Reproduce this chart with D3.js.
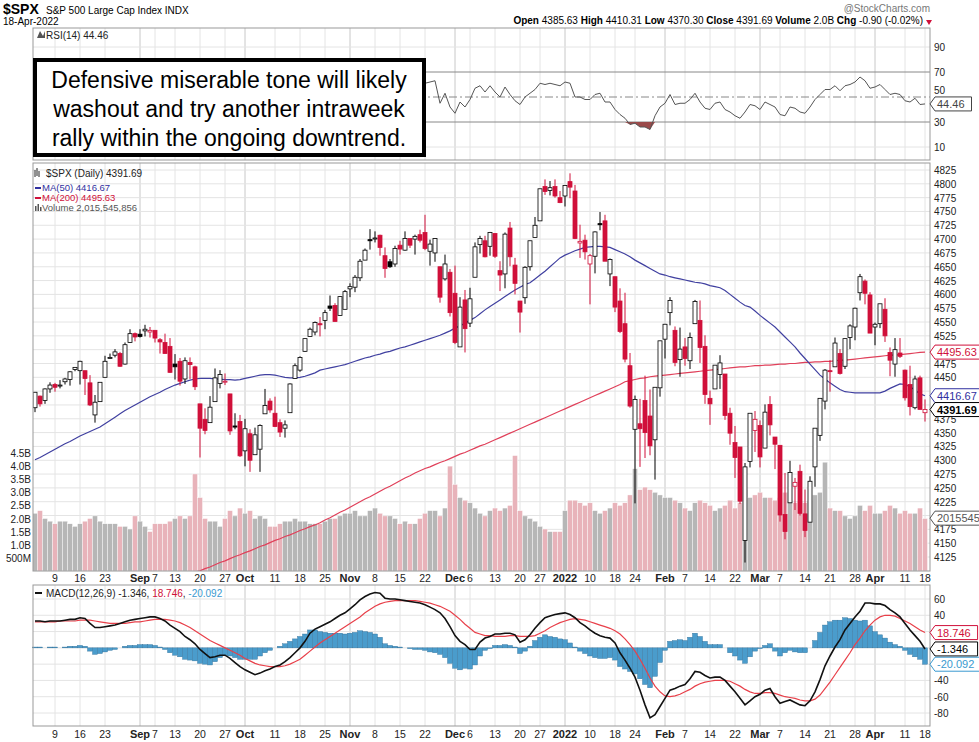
<!DOCTYPE html>
<html>
<head>
<meta charset="utf-8">
<script src="https://cdn.jsdelivr.net/npm/d3@7"></script>
<style>
  body { margin: 0; background: #fff; }
  text { font-family: 'Liberation Sans', Arial, sans-serif; }
</style>
</head>
<body>
<div id="chart"></div>
<script>
// trading days: Aug 3 2021 .. Apr 18 2022
const startDate = '2021-08-03'
const endDate = '2022-04-18'
const holidays = ['2021-09-06', '2021-11-25', '2021-12-24', '2022-01-17', '2022-02-21', '2022-04-15']

const opens = [4395,4416,4408,4429,4437,4435,4442,4446,4464,4462,4462,4440,4382,4406,4450,4484,4490,4493,4474,4513,4529,
  4528,4534,4532,4535,4518,4513,4506,4474,4479,4447,4477,4469,4402,4374,4368,4406,4439,4443,4420,4362,4370,
  4317,4348,4310,4320,4384,4407,4385,4368,4358,4386,4448,4463,4497,4524,4532,4547,4553,4579,4580,4562,4573,
  4610,4613,4630,4662,4699,4701,4707,4670,4659,4655,4689,4680,4701,4700,4708,4712,4678,4675,4650,4628,4640,
  4602,4505,4590,4548,4631,4690,4697,4687,4710,4643,4637,4720,4653,4588,4594,4650,4703,4733,4795,4788,4795,4775,
  4778,4804,4787,4693,4698,4655,4669,4728,4733,4637,4632,4588,4547,4471,4356,4366,4408,4380,4337,4431,
  4519,4567,4535,4482,4505,4480,4547,4553,4506,4412,4429,4455,4456,4385,4332,4324,4155,4298,4354,
  4363,4322,4401,4342,4327,4202,4223,4253,4280,4203,4188,4288,4345,4407,4462,4469,4493,4470,4522,4541,4603,4624,4599,
  4541,4547,4573,4495,4474,4494,4463,4437,4395,4449,4386]
const highs = [4423,4417,4430,4441,4440,4445,4449,4461,4468,4480,4462,4454,4418,4441,4489,4493,4501,4496,4513,4537,4531,
  4537,4545,4541,4535,4521,4529,4521,4492,4485,4486,4486,4471,4402,4394,4416,4466,4463,4457,4420,4385,4382,
  4375,4356,4359,4365,4429,4412,4415,4374,4372,4439,4475,4488,4520,4540,4551,4559,4572,4598,4584,4597,4608,
  4620,4635,4664,4683,4718,4714,4708,4685,4664,4688,4697,4714,4701,4708,4717,4744,4699,4702,4650,4672,4646,
  4652,4595,4608,4612,4694,4706,4706,4713,4711,4660,4712,4731,4666,4588,4651,4697,4740,4791,4808,4805,4808,4787,
  4797,4819,4798,4726,4708,4673,4714,4749,4744,4665,4632,4611,4603,4494,4417,4411,4453,4428,4432,4516,
  4546,4595,4542,4540,4521,4531,4590,4589,4526,4426,4472,4490,4456,4395,4362,4324,4295,4385,4389,
  4372,4401,4416,4342,4327,4277,4299,4268,4292,4247,4271,4358,4412,4465,4481,4522,4501,4520,4546,4576,4637,4627,4604,
  4549,4583,4593,4504,4521,4521,4464,4471,4453,4453,4410]
const lows = [4387,4397,4402,4422,4424,4430,4437,4435,4461,4437,4418,4398,4368,4406,4450,4484,4486,4469,4473,4513,4515,
  4522,4524,4522,4513,4493,4493,4458,4446,4435,4438,4447,4427,4305,4347,4368,4406,4430,4436,4346,4356,4306,
  4289,4279,4310,4279,4384,4386,4360,4342,4341,4386,4448,4460,4496,4524,4526,4524,4537,4570,4551,4562,4573,
  4595,4604,4624,4662,4681,4694,4670,4630,4648,4650,4672,4679,4684,4672,4694,4680,4652,4659,4585,4625,4560,
  4510,4505,4495,4541,4631,4674,4667,4670,4666,4606,4611,4651,4600,4531,4583,4643,4703,4733,4780,4779,4775,4765,
  4759,4774,4700,4666,4663,4582,4638,4716,4662,4615,4568,4530,4477,4395,4222,4288,4304,4309,4265,4415,
  4484,4544,4470,4451,4471,4465,4547,4476,4402,4364,4429,4429,4373,4328,4268,4221,4115,4287,4315,
  4287,4322,4345,4284,4189,4157,4223,4210,4200,4161,4188,4252,4335,4392,4424,4469,4455,4465,4501,4517,4589,4582,4530,
  4508,4539,4514,4452,4451,4485,4408,4381,4392,4392,4370]
const closes = [4423,4402,4429,4436,4432,4436,4447,4460,4468,4479,4448,4400,4405,4441,4479,4486,4496,4470,4509,4529,4523,
  4524,4537,4535,4521,4514,4493,4459,4469,4443,4480,4473,4433,4358,4354,4396,4449,4455,4443,4353,4360,4308,
  4357,4300,4346,4363,4399,4391,4361,4351,4364,4438,4471,4486,4520,4537,4549,4545,4567,4575,4551,4596,4605,
  4614,4631,4660,4680,4697,4702,4685,4647,4650,4683,4682,4701,4689,4705,4698,4683,4691,4701,4595,4655,4567,
  4513,4577,4538,4592,4686,4701,4668,4712,4669,4635,4709,4668,4620,4568,4649,4697,4725,4791,4786,4793,4778,4766,
  4797,4794,4701,4696,4677,4670,4713,4726,4660,4663,4577,4533,4483,4398,4410,4357,4350,4326,4432,4516,
  4546,4589,4477,4501,4484,4522,4587,4504,4419,4402,4472,4476,4381,4349,4305,4226,4288,4385,4374,
  4306,4387,4364,4329,4201,4171,4278,4260,4204,4173,4262,4358,4412,4463,4461,4512,4457,4520,4543,4575,4632,4602,4530,
  4546,4583,4525,4481,4500,4488,4413,4397,4447,4392,4391.69]
// volume in billions
const volumes = [2.2,2.3,2.0,1.9,1.8,1.9,1.9,1.8,1.7,1.8,1.9,2.0,2.1,1.9,1.8,1.8,1.8,1.7,1.7,1.6,2.1,
  1.9,1.7,1.5,1.8,1.8,1.8,1.9,2.0,2.1,2.0,2.1,3.7,2.8,2.0,1.9,1.9,1.7,2.0,2.3,2.1,2.4,
  2.2,2.3,2.0,2.1,2.0,1.7,1.7,1.8,1.9,1.9,2.0,1.9,1.9,1.8,1.8,1.8,1.9,2.0,2.0,2.1,2.2,
  2.2,2.3,2.1,2.1,2.3,2.4,2.2,2.1,2.1,2.0,1.8,1.9,1.8,1.8,2.0,2.2,2.3,2.3,2.1,2.4,4.0,
  3.3,2.8,2.7,2.6,2.4,2.2,2.1,2.3,2.4,2.3,2.4,2.5,4.4,2.3,2.1,2.0,1.9,1.7,1.6,1.5,1.5,1.5,
  2.3,2.7,2.7,2.6,2.5,2.6,2.3,2.2,2.3,2.4,2.6,2.5,2.6,2.9,3.9,3.1,3.2,3.1,3.0,2.9,
  2.8,2.8,2.7,2.6,2.4,2.3,2.6,2.7,2.6,2.5,2.3,2.4,2.5,2.7,2.4,2.6,3.1,2.8,2.9,
  3.0,2.8,2.8,2.7,2.8,3.0,2.7,2.6,2.6,2.6,2.7,2.9,3.0,4.15,2.4,2.3,2.3,2.1,2.0,2.1,2.5,2.3,2.5,
  2.2,2.2,2.3,2.5,2.4,2.2,2.3,2.2,2.2,2.4,2.0]
const ma50 = [4301,4305,4310,4315,4320,4325,4330,4334,4339,4344,4348,4352,4356,4360,4366,4372,4378,4384,4390,4395,4400,
  4405,4410,4415,4419,4423,4428,4432,4436,4439,4442,4445,4447,4448,4448,4448,4447,4447,4446,4446,4445,4446,
  4448,4450,4452,4454,4455,4455,4454,4452,4450,4449,4449,4450,4452,4455,4458,4463,4465,4467,4469,4471,4473,
  4476,4479,4482,4485,4487,4490,4492,4495,4497,4500,4503,4505,4508,4511,4514,4517,4520,4523,4526,4530,4534,
  4539,4543,4548,4553,4558,4565,4572,4578,4584,4590,4596,4602,4608,4613,4618,4621,4628,4635,4642,4650,4658,4666,
  4671,4675,4679,4682,4685,4686,4687,4687,4686,4685,4681,4677,4673,4668,4662,4657,4652,4647,4642,4637,
  4635,4632,4630,4628,4626,4624,4622,4621,4619,4616,4614,4612,4607,4600,4593,4586,4580,4577,4570,
  4562,4555,4548,4541,4532,4523,4514,4505,4494,4484,4474,4464,4454,4447,4440,4434,4428,4424,4423,4422,4422,4422,4422,
  4422,4422,4425,4430,4434,4438,4437,4433,4427,4420,4416.67]
const ma200 = [4040,4042,4043,4045,4047,4049,4051,4053,4055,4056,4058,4060,4062,4063,4065,4067,4068,4070,4072,4074,4076,
  4077,4079,4081,4083,4085,4087,4089,4091,4093,4095,4096,4098,4100,4104,4107,4111,4115,4118,4122,4126,4129,
  4133,4136,4140,4144,4147,4151,4155,4158,4162,4165,4169,4173,4176,4180,4183,4187,4192,4196,4201,4206,4210,
  4215,4220,4225,4230,4234,4239,4244,4249,4253,4258,4263,4268,4272,4277,4281,4285,4288,4292,4296,4299,4303,
  4307,4311,4314,4318,4322,4326,4329,4333,4337,4341,4345,4349,4353,4357,4361,4365,4369,4373,4377,4381,4385,4389,
  4393,4397,4401,4405,4409,4413,4417,4421,4425,4429,4433,4437,4442,4444,4446,4448,4449,4451,4452,4453,
  4454,4455,4456,4457,4458,4459,4460,4461,4462,4463,4464,4465,4466,4467,4468,4469,4469,4470,4471,
  4471,4472,4472,4473,4474,4474,4475,4475,4476,4477,4477,4478,4478,4479,4479,4480,4481,4481,4482,4483,4484,4485,4486,
  4487,4488,4489,4490,4490,4491,4492,4493,4494,4495,4495.63]
const rsiStart = 76
const rsi = [60,58,61,62,63,45,53,42,37,46,42,48,57,59,54,59,54,50,58,52,47,44,50,53,56,61,60,61,60,59,
  62,61,50,50,48,48,52,53,46,46,40,36,33,28,29,26,26,24,35,42,45,52,44,45,45,48,53,46,41,40,45,46,40,38,35,
  33,38,44,43,40,46,44,42,36,35,42,41,38,37,42,48,52,56,56,59,55,59,60,62,66,63,57,58,60,56,52,53,52,47,46,49,44,44.46]
const macd = [33,33,32,33,33,33,34,35,35,37,36,30,25,25,26,27,28,30,32,34,35,36,37,38,38,36,33,28,24,20,
  14,10,5,-2,-7,-12,-11,-9,-9,-13,-18,-23,-27,-30,-33,-31,-28,-26,-23,-21,-17,-12,-6,0,8,18,23,26,29,32,
  36,40,43,48,53,59,63,66,68,67,61,60,60,59,58,57,56,55,53,50,47,43,36,26,15,8,4,-2,-2,7,
  12,14,17,17,18,18,16,7,10,16,24,31,37,39,41,42,43,41,37,31,27,22,18,15,13,12,6,-6,-15,-25,
  -36,-52,-70,-86,-82,-72,-62,-52,-50,-47,-45,-38,-29,-30,-34,-37,-36,-36,-40,-47,-54,-62,-70,-65,-60,-57,-52,-50,-60,-68,
  -66,-64,-67,-70,-71,-65,-54,-39,-22,-10,1,10,22,30,38,45,55,55,54,54,52,47,43,38,30,22,15,8,-1.346]
const signal = [32,32,32,32,32,33,33,33,33,34,34,34,33,32,31,30,30,30,30,31,32,32,33,34,35,35,35,34,33,31,
  28,25,21,17,13,9,6,3,0,-3,-6,-9,-13,-16,-19,-21,-22,-23,-23,-23,-22,-20,-17,-14,-9,-4,1,6,10,14,
  18,22,26,30,34,38,43,47,51,54,56,57,58,58,58,58,58,57,56,55,53,51,48,45,40,35,29,24,19,17,
  15,15,14,14,14,15,15,14,14,14,15,18,21,25,28,31,33,35,36,35,34,32,30,28,26,24,21,17,11,4,
  -4,-14,-25,-37,-47,-54,-59,-60,-59,-57,-54,-51,-47,-44,-42,-41,-40,-40,-40,-41,-44,-47,-51,-54,-56,-56,-55,-55,-56,-58,
  -60,-61,-62,-64,-65,-65,-63,-58,-50,-42,-33,-24,-15,-6,4,12,21,28,34,38,40,40,39,36,33,30,26,22,18.746]

// x-axis tick labels: [date, label, is month]
const ticks = [['2021-08-09','9',0],['2021-08-16','16',0],['2021-08-23','23',0],['2021-09-01','Sep',1],['2021-09-07','7',0],
  ['2021-09-13','13',0],['2021-09-20','20',0],['2021-09-27','27',0],['2021-10-01','Oct',1],['2021-10-11','11',0],
  ['2021-10-18','18',0],['2021-10-25','25',0],['2021-11-01','Nov',1],['2021-11-08','8',0],['2021-11-15','15',0],
  ['2021-11-22','22',0],['2021-12-01','Dec',1],['2021-12-06','6',0],['2021-12-13','13',0],['2021-12-20','20',0],
  ['2021-12-27','27',0],['2022-01-03','2022',1],['2022-01-10','10',0],['2022-01-18','18',0],['2022-01-24','24',0],
  ['2022-02-01','Feb',1],['2022-02-07','7',0],['2022-02-14','14',0],['2022-02-22','22',0],['2022-03-01','Mar',1],
  ['2022-03-07','7',0],['2022-03-14','14',0],['2022-03-21','21',0],['2022-03-28','28',0],['2022-04-01','Apr',1],
  ['2022-04-11','11',0],['2022-04-18','18',0]]
const priceTicks = d3.range(4125, 4826, 25)
const volTicks = [0.5, 1.0, 1.5, 2.0, 2.5, 3.0, 3.5, 4.0, 4.5]
const rsiTicks = [10, 30, 50, 70, 90]
const macdTicks = [-80, -60, -40, -20, 0, 20, 40, 60]

// build the date list
const fmt = d3.timeFormat('%Y-%m-%d')
const dates = d3.timeDay.range(new Date(startDate + 'T00:00'), new Date(endDate + 'T12:00'))
  .filter(d => d.getDay() !== 0 && d.getDay() !== 6 && !holidays.includes(fmt(d)))
  .map(fmt)

const W = 979, H = 742
const plotL = 33, plotR = 930
const svg = d3.select('#chart').append('svg').attr('width', W).attr('height', H)

const x = d3.scaleLinear().domain([0, dates.length - 1]).range([35, 925])
const xd = d => x(dates.indexOf(d))

const rsiY = d3.scaleLinear().domain([30, 70]).range([122, 72])
const priceY = d3.scaleLinear().domain([4125, 4825]).range([557, 170])
const volY = d3.scaleLinear().domain([0, 4.5]).range([571, 453])
const macdY = d3.scaleLinear().domain([-80, 60]).range([713, 599])

const red = '#d0103a'
const grid = '#e4e4e4'

function panel(top, bottom, name) {
  const g = svg.append('g')
  g.append('clipPath').attr('id', name).append('rect')
    .attr('x', plotL).attr('y', top).attr('width', plotR - plotL).attr('height', bottom - top)
  g.selectAll('.vg').data(ticks).enter().append('line')
    .attr('x1', d => xd(d[0])).attr('x2', d => xd(d[0]))
    .attr('y1', top).attr('y2', bottom)
    .attr('stroke', d => d[2] ? '#c8c8c8' : grid)
  return g
}

function frame(top, bottom) {
  svg.append('rect').attr('x', plotL).attr('y', top).attr('width', plotR - plotL).attr('height', bottom - top)
    .attr('fill', 'none').attr('stroke', '#999')
}

function hgrid(g, vals, scale) {
  g.selectAll(null).data(vals).enter().append('line')
    .attr('x1', plotL).attr('x2', plotR)
    .attr('y1', d => scale(d)).attr('y2', d => scale(d)).attr('stroke', grid)
}

function rightLabels(vals, scale, f, dy) {
  svg.selectAll(null).data(vals).enter().append('text')
    .attr('x', 934).attr('y', d => scale(d) + (dy ? dy(d) : 4)).attr('font-size', 10).attr('fill', '#222')
    .text(f)
}

function tag(y, txt, color, bold) {
  const w = txt.length * 6.1 + 6
  svg.append('path')
    .attr('d', `M${plotR},${y} L${plotR + 5},${y - 7} L${plotR + 5 + w},${y - 7} L${plotR + 5 + w},${y + 7} L${plotR + 5},${y + 7} Z`)
    .attr('fill', '#fff').attr('stroke', color)
  svg.append('text').attr('x', plotR + 7).attr('y', y + 4).attr('font-size', 11)
    .attr('font-weight', bold ? 700 : 400).attr('fill', bold ? '#000' : color).text(txt)
}

// header
svg.append('text').attr('x', 3).attr('y', 14).attr('font-size', 14).attr('font-weight', 700).text('$SPX')
svg.append('text').attr('x', 46).attr('y', 14).attr('font-size', 10).text('S&P 500 Large Cap Index INDX')
svg.append('text').attr('x', 3).attr('y', 25).attr('font-size', 10).text('18-Apr-2022')
svg.append('text').attr('x', 930).attr('y', 12).attr('font-size', 10).attr('fill', '#777')
  .attr('text-anchor', 'end').text('@StockCharts.com')
const hdr = svg.append('text').attr('x', 923).attr('y', 24).attr('font-size', 10).attr('text-anchor', 'end')
;[['Open', ' 4385.63 '], ['High', ' 4410.31 '], ['Low', ' 4370.30 '], ['Close', ' 4391.69 '], ['Volume', ' 2.0B '], ['Chg', ' -0.90 (-0.02%)']]
  .forEach(p => {
    hdr.append('tspan').attr('font-weight', 700).text(p[0])
    hdr.append('tspan').text(p[1])
  })
svg.append('path').attr('d', 'M926,20 L932,20 L929,25 Z').attr('fill', red)

// RSI panel
const rTop = 28, rBot = 160
const rg = panel(rTop, rBot, 'clipR')
hgrid(rg, [10, 90], rsiY)
rg.selectAll(null).data([30, 70]).enter().append('line')
  .attr('x1', plotL).attr('x2', plotR).attr('y1', d => rsiY(d)).attr('y2', d => rsiY(d)).attr('stroke', '#888')
rg.append('line').attr('x1', plotL).attr('x2', plotR).attr('y1', rsiY(50)).attr('y2', rsiY(50))
  .attr('stroke', '#888').attr('stroke-dasharray', '8,3,2,3')
rg.append('path').datum(rsi)
  .attr('d', d3.area().x((d, i) => x(i + rsiStart)).y0(rsiY(30)).y1(d => Math.max(rsiY(30), rsiY(d))))
  .attr('fill', '#9a4a4a')
rg.append('path').datum(rsi)
  .attr('d', d3.line().x((d, i) => x(i + rsiStart)).y(d => rsiY(d)))
  .attr('fill', 'none').attr('stroke', '#555').attr('stroke-width', 1)
frame(rTop, rBot)
rightLabels(rsiTicks, rsiY, d => d, d => d === 50 ? -3 : 4)
svg.append('text').attr('x', 46).attr('y', 39).attr('font-size', 10).attr('font-family', 'DejaVu Sans Mono')
  .attr('fill', '#222').text('RSI(14) 44.46')
svg.append('path').attr('d', 'M37,38 L40,31 L43,36 L45,31 L45,38 Z').attr('fill', '#555')
tag(rsiY(44.46), '44.46', '#444', false)

// price panel
const pTop = 163, pBot = 571
const pg = panel(pTop, pBot, 'clipP')
hgrid(pg, priceTicks, priceY)
const vol = pg.append('g').attr('clip-path', 'url(#clipP)')
vol.selectAll('rect').data(volumes).enter().append('rect')
  .attr('x', (d, i) => x(i) - 2.5).attr('width', 5)
  .attr('y', d => volY(d)).attr('height', d => volY(0) - volY(d))
  .attr('fill', (d, i) => closes[i] < (i ? closes[i - 1] : opens[i]) ? '#e8b3ba' : '#b6b6b6')
  .attr('stroke', '#fff').attr('stroke-width', 0.4)
const maLine = d3.line().x((d, i) => x(i)).y(d => priceY(d))
vol.append('path').datum(ma200).attr('d', maLine).attr('fill', 'none').attr('stroke', '#e0405a').attr('stroke-width', 1.2)
vol.append('path').datum(ma50).attr('d', maLine).attr('fill', 'none').attr('stroke', '#4040a0').attr('stroke-width', 1.2)

const candles = vol.selectAll('.c').data(closes).enter().append('g')
const cColor = (d, i) => d < (i ? closes[i - 1] : opens[i]) ? red : '#000'
candles.append('line')
  .attr('x1', (d, i) => x(i)).attr('x2', (d, i) => x(i))
  .attr('y1', (d, i) => priceY(highs[i])).attr('y2', (d, i) => priceY(lows[i]))
  .attr('stroke', cColor)
candles.append('rect')
  .attr('x', (d, i) => x(i) - 2).attr('width', 4)
  .attr('y', (d, i) => priceY(Math.max(d, opens[i])))
  .attr('height', (d, i) => Math.max(1, Math.abs(priceY(d) - priceY(opens[i]))))
  .attr('fill', (d, i) => d < opens[i] ? cColor(d, i) : '#fff')
  .attr('stroke', cColor).attr('stroke-width', 0.8)
frame(pTop, pBot)
rightLabels(priceTicks.filter(d => ![4500, 4400, 4425, 4200].includes(d)), priceY, d => d)
svg.selectAll(null).data(volTicks).enter().append('text')
  .attr('x', 31).attr('y', d => volY(d) + 4).attr('font-size', 10).attr('text-anchor', 'end').attr('fill', '#222')
  .text(d => d < 1 ? '500M' : d.toFixed(1) + 'B')
tag(priceY(4495.63), '4495.63', red, false)
tag(priceY(4416.67), '4416.67', '#3030a0', false)
tag(priceY(4391.69), '4391.69', '#000', true)
tag(volY(2.0155), '2015545', '#555', false)

const leg = svg.append('g').attr('font-size', 10)
leg.append('text').attr('x', 46).attr('y', 177).attr('font-family', 'DejaVu Sans Mono').attr('fill', '#222').text('$SPX (Daily) 4391.69')
leg.append('rect').attr('x', 35).attr('y', 187).attr('width', 6).attr('height', 2).attr('fill', '#3030a0')
leg.append('text').attr('x', 42).attr('y', 191).attr('fill', '#3030a0').attr('font-size', 9.5).text('MA(50) 4416.67')
leg.append('rect').attr('x', 35).attr('y', 197).attr('width', 6).attr('height', 2).attr('fill', red)
leg.append('text').attr('x', 42).attr('y', 201).attr('fill', red).attr('font-size', 9.5).text('MA(200) 4495.63')
leg.append('text').attr('x', 42).attr('y', 211).attr('fill', '#555').attr('font-size', 9.5).text('Volume 2,015,545,856')
leg.append('path').attr('d', 'M35,211 h1.5 v-5 h-1.5 Z M37.5,211 h1.5 v-7 h-1.5 Z M40,211 h1.5 v-4 h-1.5 Z').attr('fill', '#555')
leg.append('path').attr('d', 'M35,177 v-7 M37,176 v-8 M39,177 v-6').attr('stroke', '#222')

// x axis labels
function xLabels(y) {
  svg.selectAll(null).data(ticks).enter().append('text')
    .attr('x', d => xd(d[0])).attr('y', y).attr('font-size', d => d[2] ? 11 : 10.5)
    .attr('font-weight', d => d[2] ? 700 : 400).attr('text-anchor', 'middle').attr('fill', '#222')
    .text(d => d[1])
}
xLabels(582)

// MACD panel
const mTop = 585, mBot = 726
const mg = panel(mTop, mBot, 'clipM')
hgrid(mg, macdTicks, macdY)
mg.selectAll('.h').data(macd).enter().append('rect')
  .attr('x', (d, i) => x(i) - 2.5).attr('width', 5)
  .attr('y', (d, i) => macdY(Math.max(0, d - signal[i])))
  .attr('height', (d, i) => Math.abs(macdY(d - signal[i]) - macdY(0)))
  .attr('fill', '#4a9ccc').attr('stroke', '#2f6f99').attr('stroke-width', 0.4)
const mLine = d3.line().x((d, i) => x(i)).y(d => macdY(d))
mg.append('path').datum(signal).attr('d', mLine).attr('fill', 'none').attr('stroke', '#e8404a').attr('stroke-width', 1.2)
mg.append('path').datum(macd).attr('d', mLine).attr('fill', 'none').attr('stroke', '#111').attr('stroke-width', 1.6)
frame(mTop, mBot)
rightLabels(macdTicks.filter(d => d !== 20 && d !== 0 && d !== -20), macdY, d => d)
const ml = svg.append('text').attr('x', 46).attr('y', 597).attr('font-size', 10)
ml.append('tspan').attr('fill', '#222').text('MACD(12,26,9) -1.346, ')
ml.append('tspan').attr('fill', red).text('18.746')
ml.append('tspan').attr('fill', '#222').text(', ')
ml.append('tspan').attr('fill', '#3a9ad0').text('-20.092')
svg.append('rect').attr('x', 35).attr('y', 592).attr('width', 7).attr('height', 2).attr('fill', '#111')
tag(macdY(18.746), '18.746', red, false)
tag(macdY(-1.346), '-1.346', '#000', false)
tag(macdY(-20.092), '-20.092', '#3a9ad0', false)
xLabels(738)

// annotation box
svg.append('rect').attr('x', 35).attr('y', 60).attr('width', 389).attr('height', 95)
  .attr('fill', '#fff').attr('stroke', '#000').attr('stroke-width', 4)
svg.selectAll('.note').data(['Defensive miserable tone will likely', 'washout and try another intraweek', 'rally within the ongoing downtrend.'])
  .enter().append('text')
  .attr('x', 229).attr('y', (d, i) => 88 + i * 29).attr('text-anchor', 'middle')
  .attr('font-size', 23).attr('fill', '#000').text(d => d)
</script>
</body>
</html>
